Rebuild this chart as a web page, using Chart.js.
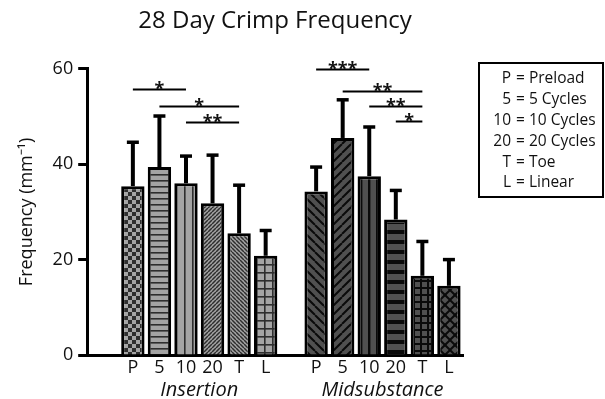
<!DOCTYPE html>
<html>
<head>
<meta charset="utf-8">
<script src="https://cdn.jsdelivr.net/npm/chart.js@4.4.1/dist/chart.umd.min.js"></script>
<style>
  html, body { margin: 0; padding: 0; background: #fff; }
</style>
</head>
<body>
<canvas id="graficoCrimp" width="605" height="399"></canvas>
<script>
const categories = ['P', '5', '10', '20', 'T', 'L'];
const groups = ['Insertion', 'Midsubstance'];
const insertionMeans = [35.4, 39.4, 36.0, 31.8, 25.5, 20.8];
const insertionErrors = [9.2, 10.7, 5.7, 10.1, 10.1, 5.3];
const midsubstanceMeans = [34.3, 45.5, 37.5, 28.4, 16.6, 14.5];
const midsubstanceErrors = [5.1, 8.0, 10.3, 6.1, 7.2, 5.5];
const yTicks = [0, 20, 40, 60];
const legendCodes = ['P', '5', '10', '20', 'T', 'L'];
const legendNames = ['Preload', '5 Cycles', '10 Cycles', '20 Cycles', 'Toe', 'Linear'];
// significance bars: from bar, to bar, height (mm-1), stars
const insertionSig = [
  { from: 0, to: 2, level: 55.8, label: '*' },
  { from: 1, to: 4, level: 52.2, label: '*' },
  { from: 2, to: 4, level: 48.8, label: '**' }
];
const midsubstanceSig = [
  { from: 0, to: 2, level: 60.0, label: '***' },
  { from: 1, to: 4, level: 55.4, label: '**' },
  { from: 2, to: 4, level: 52.2, label: '**' },
  { from: 3, to: 4, level: 49.0, label: '*' }
];

const FONT = "'Open Sans', sans-serif";
const GROUP_GAP = 0.9;
const X_MIN = -0.72;
const X_MAX = 13.43;
const pos = (g, i) => 1 + g * (categories.length + GROUP_GAP) + i;

Chart.defaults.font.family = FONT;

function makePattern(size, bg, fg, draw) {
  const c = document.createElement('canvas');
  c.width = size;
  c.height = size;
  const g = c.getContext('2d');
  g.fillStyle = bg;
  g.fillRect(0, 0, size, size);
  g.fillStyle = fg;
  g.strokeStyle = fg;
  draw(g, size);
  return g.createPattern(c, 'repeat');
}
const checker = sq => (g, s) => { g.fillRect(0, 0, sq, sq); g.fillRect(sq, sq, sq, sq); };
const hlines = lw => (g, s) => g.fillRect(0, 0, s, lw);
const vlines = lw => (g, s) => g.fillRect(0, 0, lw, s);
const grid = lw => (g, s) => { g.fillRect(0, 0, s, lw); g.fillRect(0, 0, lw, s); };
const diag = (lw, up) => (g, s) => {
  g.lineWidth = lw;
  g.beginPath();
  for (const k of [-s, 0, s]) {
    if (up) { g.moveTo(k, s); g.lineTo(k + s, 0); }
    else { g.moveTo(k, 0); g.lineTo(k + s, s); }
  }
  g.stroke();
};
const cross = lw => (g, s) => { diag(lw, true)(g, s); diag(lw, false)(g, s); };

const LIGHT = '#a4a4a4', LIGHT_LINE = '#2e2e2e';
const DARK = '#505050', DARK_LINE = '#0a0a0a';
const fills = [
  makePattern(8, LIGHT, LIGHT_LINE, checker(4)),
  makePattern(6, LIGHT, LIGHT_LINE, hlines(1.6)),
  makePattern(8, LIGHT, LIGHT_LINE, vlines(1.6)),
  makePattern(4, LIGHT, LIGHT_LINE, diag(1.5, true)),
  makePattern(4, LIGHT, LIGHT_LINE, diag(1.5, false)),
  makePattern(8, LIGHT, LIGHT_LINE, grid(1.6)),
  makePattern(9, DARK, DARK_LINE, diag(2, false)),
  makePattern(9, DARK, DARK_LINE, diag(2, true)),
  makePattern(8, DARK, DARK_LINE, vlines(2.4)),
  makePattern(10, DARK, DARK_LINE, hlines(4)),
  makePattern(7, DARK, DARK_LINE, grid(2)),
  makePattern(10, DARK, DARK_LINE, cross(2))
];

const means = [...insertionMeans, ...midsubstanceMeans];
const errors = [...insertionErrors, ...midsubstanceErrors];
const points = [
  ...insertionMeans.map((v, i) => ({ x: pos(0, i), y: v })),
  ...midsubstanceMeans.map((v, i) => ({ x: pos(1, i), y: v }))
];
const tickPositions = points.map(p => p.x);
const tickLabels = [...categories, ...categories];
const groupPositions = groups.map((_, g) => pos(g, (categories.length - 1) / 2));

const extrasPlugin = {
  id: 'extras',
  afterDatasetsDraw(chart) {
    const ctx = chart.ctx;
    const xs = chart.scales.x, ys = chart.scales.y;
    const bars = chart.getDatasetMeta(0).data;
    ctx.save();
    ctx.strokeStyle = '#000';
    // error bars (upper only)
    bars.forEach((bar, i) => {
      const top = ys.getPixelForValue(means[i] + errors[i]);
      ctx.lineWidth = 4;
      ctx.beginPath();
      ctx.moveTo(bar.x, bar.y);
      ctx.lineTo(bar.x, top);
      ctx.stroke();
      ctx.lineWidth = 3.5;
      ctx.beginPath();
      ctx.moveTo(bar.x - 6, top);
      ctx.lineTo(bar.x + 6, top);
      ctx.stroke();
    });
    // significance lines
    ctx.fillStyle = '#111';
    ctx.font = 'bold 18px ' + FONT;
    ctx.textAlign = 'center';
    ctx.textBaseline = 'alphabetic';
    [insertionSig, midsubstanceSig].forEach((list, g) => {
      list.forEach(s => {
        const x1 = xs.getPixelForValue(pos(g, s.from));
        const x2 = xs.getPixelForValue(pos(g, s.to));
        const y = Math.round(ys.getPixelForValue(s.level)) + 0.5;
        ctx.lineWidth = 2;
        ctx.beginPath();
        ctx.moveTo(x1, y);
        ctx.lineTo(x2, y);
        ctx.stroke();
        ctx.fillText(s.label, (x1 + x2) / 2, y + 5);
      });
    });
    ctx.restore();
  },
  afterDraw(chart) {
    const ctx = chart.ctx;
    ctx.save();
    ctx.strokeStyle = '#000';
    ctx.lineWidth = 2;
    ctx.strokeRect(479, 63, 124, 134);
    ctx.fillStyle = '#111';
    ctx.font = '15.5px ' + FONT;
    ctx.textBaseline = 'middle';
    legendCodes.forEach((code, i) => {
      const y = 79 + i * 20.8;
      ctx.textAlign = 'right';
      ctx.fillText(code, 511, y);
      ctx.textAlign = 'left';
      ctx.fillText('= ' + legendNames[i], 516, y);
    });
    ctx.restore();
  }
};

const ctx = document.getElementById('graficoCrimp').getContext('2d');
const chartCrimp = new Chart(ctx, {
  type: 'bar',
  data: {
    datasets: [{
      label: 'Frequency',
      data: points,
      backgroundColor: fills,
      borderColor: '#000',
      borderWidth: 3,
      borderSkipped: 'bottom',
      categoryPercentage: 1,
      barPercentage: 0.88
    }]
  },
  options: {
    responsive: false,
    animation: false,
    events: [],
    layout: { padding: { left: 10, right: 142, top: 0, bottom: 0 } },
    plugins: {
      legend: { display: false },
      tooltip: { enabled: false },
      title: {
        display: true,
        text: '28 Day Crimp Frequency',
        fullSize: false,
        color: '#111',
        font: { size: 24, weight: 'normal' },
        padding: { top: 7, bottom: 33 }
      }
    },
    scales: {
      x: {
        type: 'linear',
        min: X_MIN,
        max: X_MAX,
        offset: false,
        position: 'bottom',
        weight: 0,
        afterBuildTicks: s => { s.ticks = tickPositions.map(v => ({ value: v })); },
        ticks: {
          autoSkip: false,
          maxRotation: 0,
          padding: 4,
          color: '#111',
          font: { size: 18, lineHeight: 1 },
          callback: (v, i) => tickLabels[i]
        },
        grid: { display: false, drawTicks: false, offset: false },
        border: { color: '#000', width: 3 }
      },
      xg: {
        type: 'linear',
        min: X_MIN,
        max: X_MAX,
        offset: false,
        position: 'bottom',
        weight: 1,
        afterBuildTicks: s => { s.ticks = groupPositions.map(v => ({ value: v })); },
        ticks: {
          autoSkip: false,
          maxRotation: 0,
          padding: 0,
          color: '#111',
          font: { size: 20, style: 'italic', lineHeight: 0.9 },
          callback: (v, i) => groups[i]
        },
        grid: { display: false, drawTicks: false, offset: false },
        border: { display: false }
      },
      y: {
        min: 0,
        max: 60,
        afterBuildTicks: s => { s.ticks = yTicks.map(v => ({ value: v })); },
        ticks: { padding: 5, color: '#111', font: { size: 18 } },
        grid: { drawOnChartArea: false, tickLength: 9, tickWidth: 3, tickColor: '#000' },
        border: { color: '#000', width: 3 },
        title: {
          display: true,
          text: 'Frequency (mm⁻¹)',
          color: '#111',
          font: { size: 18 },
          padding: { top: 6, bottom: 10 }
        }
      }
    }
  },
  plugins: [extrasPlugin]
});
</script>
</body>
</html>
